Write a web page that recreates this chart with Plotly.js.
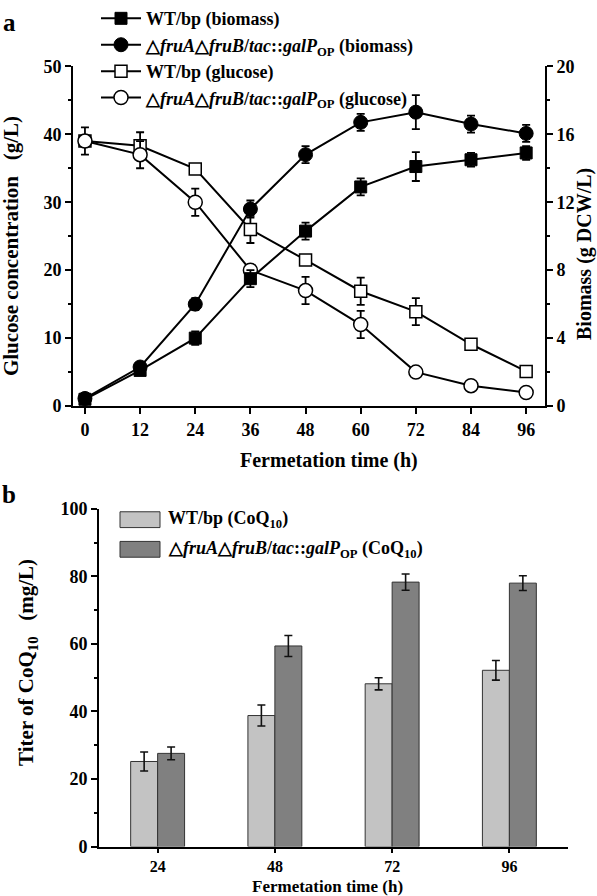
<!DOCTYPE html>
<html>
<head>
<meta charset="utf-8">
<script src="https://cdn.plot.ly/plotly-3.0.1.min.js"></script>
<style>html,body{margin:0;padding:0;background:#fff;}#chart{width:597px;height:896px;}</style>
</head>
<body>
<div id="chart"></div>
<script>
// ---------- Panel a data ----------
const timeH = [0, 12, 24, 36, 48, 60, 72, 84, 96];
const wtBiomass = [0.4, 2.1, 4.0, 7.5, 10.3, 12.9, 14.1, 14.5, 14.9];
const wtBiomassErr = [0.2, 0.2, 0.4, 0.5, 0.5, 0.5, 0.85, 0.4, 0.4];
const mutBiomass = [0.45, 2.3, 6.0, 11.6, 14.8, 16.7, 17.3, 16.6, 16.05];
const mutBiomassErr = [0.2, 0.2, 0.35, 0.5, 0.5, 0.5, 1.0, 0.5, 0.5];
const wtGlucose = [39, 38.3, 34.9, 26, 21.5, 16.9, 13.9, 9.1, 5.1];
const wtGlucoseErr = [0.5, 2, 0.5, 2, 0.5, 2, 2, 0.6, 0.5];
const mutGlucose = [39, 37, 30, 20, 17, 12, 5, 3, 2];
const mutGlucoseErr = [2, 2, 2, 0.5, 2, 2, 0.5, 0.5, 0.3];
const timeTicks = [0, 12, 24, 36, 48, 60, 72, 84, 96];

// ---------- Panel b data ----------
const coqTimes = ['24', '48', '72', '96'];
const wtCoQ = [25.2, 38.8, 48.2, 52.2];
const wtCoQErr = [2.8, 3.1, 1.8, 2.9];
const mutCoQ = [27.6, 59.4, 78.3, 78.0];
const mutCoQErr = [1.9, 3.1, 2.4, 2.2];

const mutLabel = '△<i>fruA</i>△<i>fruB</i>/<i>tac</i>::<i>galP</i><sub>OP</sub>';
const FONT = 'Liberation Serif, Times New Roman, serif';
const NB = '\u00a0';

function errs(arr) {
  return {type: 'data', array: arr, visible: true, color: '#000', thickness: 1.8, width: 4};
}
const lineStyle = {color: '#000', width: 2};

const traces = [
  {x: timeH, y: wtBiomass, yaxis: 'y2', xaxis: 'x', type: 'scatter', mode: 'lines+markers',
   name: 'WT/bp (biomass)', line: lineStyle, error_y: errs(wtBiomassErr), cliponaxis: false,
   marker: {symbol: 'square', size: 12, color: '#000', line: {color: '#000', width: 1}}},
  {x: timeH, y: mutBiomass, yaxis: 'y2', xaxis: 'x', type: 'scatter', mode: 'lines+markers',
   name: mutLabel + ' (biomass)', line: lineStyle, error_y: errs(mutBiomassErr), cliponaxis: false,
   marker: {symbol: 'circle', size: 14, color: '#000', line: {color: '#000', width: 1}}},
  {x: timeH, y: wtGlucose, yaxis: 'y', xaxis: 'x', type: 'scatter', mode: 'lines+markers',
   name: 'WT/bp (glucose)', line: lineStyle, error_y: errs(wtGlucoseErr), cliponaxis: false,
   marker: {symbol: 'square', size: 12, color: '#fff', line: {color: '#000', width: 1.5}}},
  {x: timeH, y: mutGlucose, yaxis: 'y', xaxis: 'x', type: 'scatter', mode: 'lines+markers',
   name: mutLabel + ' (glucose)', line: lineStyle, error_y: errs(mutGlucoseErr), cliponaxis: false,
   marker: {symbol: 'circle', size: 14, color: '#fff', line: {color: '#000', width: 1.5}}},
  {x: coqTimes, y: wtCoQ, xaxis: 'x2', yaxis: 'y3', type: 'bar', name: 'WT/bp (CoQ10)', showlegend: false,
   marker: {color: '#c3c3c3', line: {color: '#333', width: 1}},
   error_y: {type: 'data', array: wtCoQErr, color: '#111', thickness: 1.6, width: 4}},
  {x: coqTimes, y: mutCoQ, xaxis: 'x2', yaxis: 'y3', type: 'bar', name: 'mut (CoQ10)', showlegend: false,
   marker: {color: '#808080', line: {color: '#333', width: 1}},
   error_y: {type: 'data', array: mutCoQErr, color: '#111', thickness: 1.6, width: 4}}
];

const W = 597, H = 896;
const px = v => v / W;
const py = v => (H - v) / H;

const axisCommon = {
  showline: true, linecolor: '#000', linewidth: 2, showgrid: false, zeroline: false,
  ticks: 'outside', ticklen: 6, tickwidth: 2, tickcolor: '#000',
  tickfont: {family: FONT, size: 18, color: '#000', weight: 'bold'}, automargin: false
};

function ann(text, x, y, size, extra) {
  return Object.assign({text: text, xref: 'paper', yref: 'paper', x: px(x), y: py(y),
    xanchor: 'center', yanchor: 'middle', showarrow: false,
    font: {size: size, family: FONT, color: '#000', weight: 'bold'}}, extra || {});
}

const layout = {
  width: W, height: H,
  margin: {l: 0, r: 0, t: 0, b: 0},
  paper_bgcolor: '#fff', plot_bgcolor: 'rgba(0,0,0,0)',
  font: {family: FONT, color: '#000', weight: 'bold'},
  showlegend: true,
  barmode: 'group', bargap: 0.54, bargroupgap: 0,
  legend: {x: px(96), y: py(-11), xanchor: 'left', yanchor: 'top', bgcolor: 'rgba(0,0,0,0)',
           itemwidth: 40, font: {family: FONT, size: 18, color: '#000', weight: 'bold'}, tracegroupgap: 0},
  xaxis: Object.assign({}, axisCommon, {
    domain: [px(73), px(545)], anchor: 'y', range: [-2.6, 100.1],
    tickvals: timeTicks, ticktext: timeTicks.map(String)}),
  yaxis: Object.assign({}, axisCommon, {
    domain: [py(400), py(56)], anchor: 'x', range: [0, 50], dtick: 10, tick0: 0,
    minor: {dtick: 5, ticks: 'outside', ticklen: 3, tickwidth: 2, tickcolor: '#000', showgrid: false}}),
  yaxis2: Object.assign({}, axisCommon, {
    overlaying: 'y', side: 'right', anchor: 'x', range: [0, 20], dtick: 4, tick0: 0,
    minor: {dtick: 2, ticks: 'outside', ticklen: 3, tickwidth: 2, tickcolor: '#000', showgrid: false}}),
  xaxis2: Object.assign({}, axisCommon, {
    domain: [px(99), px(568)], anchor: 'y3', type: 'category', range: [-0.5, 3.5], ticklen: 4,
    tickfont: {family: FONT, size: 16, color: '#000', weight: 'bold'}}),
  yaxis3: Object.assign({}, axisCommon, {
    domain: [py(846), py(504)], anchor: 'x2', range: [0, 100], dtick: 20, tick0: 0,
    minor: {dtick: 10, ticks: 'outside', ticklen: 3, tickwidth: 2, tickcolor: '#000', showgrid: false}}),
  shapes: [
    {type: 'rect', xref: 'paper', yref: 'paper', x0: px(120), x1: px(160), y0: py(523), y1: py(507),
     fillcolor: '#c3c3c3', line: {color: '#333', width: 1}},
    {type: 'rect', xref: 'paper', yref: 'paper', x0: px(120), x1: px(160), y0: py(553), y1: py(537),
     fillcolor: '#808080', line: {color: '#333', width: 1}}
  ],
  annotations: [
    ann('a', 9, 12, 25),
    ann('b', 9, 490, 25),
    ann('Fermetation time (h)', 329, 455, 20),
    ann('Glucose concentration' + NB + NB + NB + '(g/L)', 11, 238, 21, {textangle: -90}),
    ann('Biomass (g DCW/L)', 585, 246, 20, {textangle: -90}),
    ann('Fermetation time (h)', 327, 897, 17, {yanchor: 'bottom', borderpad: 0}),
    ann('Titer of CoQ<sub>10</sub>' + NB + NB + NB + '(mg/L)', 27, 660, 21, {textangle: -90}),
    ann('WT/bp (CoQ<sub>10</sub>)', 166, 515, 18, {xanchor: 'left'}),
    ann(mutLabel + ' (CoQ<sub>10</sub>)', 166, 545, 18, {xanchor: 'left'})
  ]
};

Plotly.newPlot('chart', traces, layout, {displayModeBar: false, staticPlot: true});
</script>
</body>
</html>
